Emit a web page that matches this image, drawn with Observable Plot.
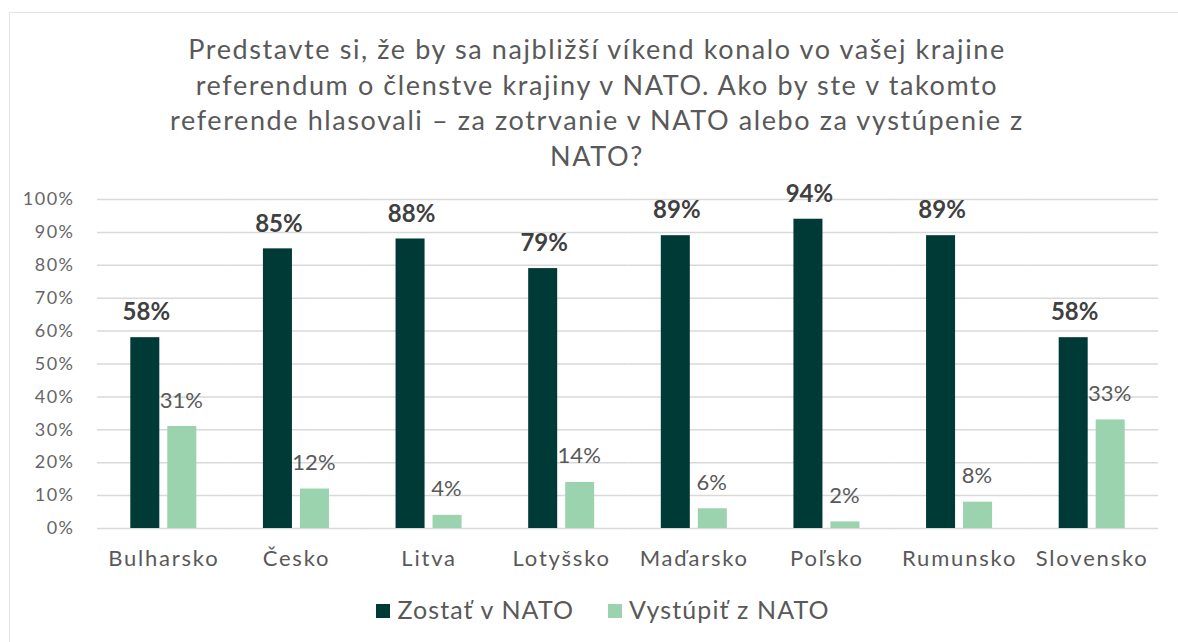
<!DOCTYPE html>
<html>
<head>
<meta charset="utf-8">
<script src="https://cdn.jsdelivr.net/npm/d3@7"></script>
<script src="https://cdn.jsdelivr.net/npm/@observablehq/plot@0.6"></script>
<style>
  html, body { margin: 0; padding: 0; background: #fff; width: 1178px; height: 642px; overflow: hidden; font-family: Lato, "Noto Sans", sans-serif; }
  #frame { position: absolute; left: 9px; top: 12px; width: 1300px; height: 800px; border-top: 1px solid #e4e4e4; border-left: 1px solid #e4e4e4; }
  #title { position: absolute; left: 0; top: 31px; width: 1194px; text-align: center; color: #595959; font-size: 27px; line-height: 35.5px; letter-spacing: 1.6px; }
  #chart { position: absolute; left: 0; top: 170px; }
  #legend { position: absolute; left: 0; top: 594px; width: 1206px; text-align: center; color: #595959; font-size: 25px; letter-spacing: 1.1px; white-space: nowrap; }
  .item { display: inline-block; margin: 0 17px; }
  .sw { display: inline-block; width: 14px; height: 14px; margin-right: 7px; vertical-align: 1px; }
</style>
</head>
<body>
<div id="frame"></div>
<div id="title">Predstavte si, že by sa najbližší víkend konalo vo vašej krajine<br>referendum o členstve krajiny v NATO. Ako by ste v takomto<br>referende hlasovali – za zotrvanie v NATO alebo za vystúpenie z<br>NATO?</div>
<div id="chart"></div>
<div id="legend"></div>
<script>
const countries = ["Bulharsko", "Česko", "Litva", "Lotyšsko", "Maďarsko", "Poľsko", "Rumunsko", "Slovensko"];
const seriesNames = ["Zostať v NATO", "Vystúpiť z NATO"];
const stay = [58, 85, 88, 79, 89, 94, 89, 58];
const leave = [31, 12, 4, 14, 6, 2, 8, 33];
const yTicks = [0, 10, 20, 30, 40, 50, 60, 70, 80, 90, 100];
const colors = ["#003a37", "#9bd3ae"];

const data = [];
countries.forEach((c, i) => {
  data.push({country: c, series: seriesNames[0], value: stay[i]});
  data.push({country: c, series: seriesNames[1], value: leave[i]});
});

const chart = Plot.plot({
  width: 1178,
  height: 410,
  marginLeft: 97,
  marginRight: 20,
  marginTop: 29,
  marginBottom: 52,
  style: {fontFamily: "Lato, 'Noto Sans', sans-serif", background: "transparent", overflow: "visible"},
  fx: {domain: countries, padding: 0, round: false, label: null},
  x: {domain: seriesNames, paddingInner: 0.216, paddingOuter: 0.9, round: false, axis: null},
  y: {domain: [0, 100], axis: null},
  color: {domain: seriesNames, range: colors},
  marks: [
    Plot.ruleY(yTicks, {stroke: "#d9d9d9", strokeWidth: 1.5}),
    Plot.axisY({ticks: yTicks, tickFormat: d => d + "%", tickSize: 0, tickPadding: 23, fontSize: 18, fill: "#666666", label: null, facetAnchor: "left"}),
    Plot.axisFx({anchor: "bottom", tickSize: 0, tickPadding: 22, fontSize: 22, fill: "#595959", label: null}),
    Plot.barY(data, {fx: "country", x: "series", y: "value", fill: "series"}),
    Plot.text(data.filter(d => d.series === seriesNames[0]), {fx: "country", x: "series", y: "value", text: d => d.value + "%", dy: -25, dx: 1, fontSize: 24, fontWeight: "bold", fill: "#404040", ariaLabel: "staylabels"}),
    Plot.text(data.filter(d => d.series === seriesNames[1]), {fx: "country", x: "series", y: "value", text: d => d.value + "%", dy: -26, dx: -1, fontSize: 22, fill: "#595959", ariaLabel: "leavelabels"})
  ]
});
const svg = d3.select(chart);
svg.selectAll("[aria-label^='y-axis tick label'] text").attr("letter-spacing", "1.5px");
svg.selectAll("[aria-label^='fx-axis tick label'] text").attr("letter-spacing", "1.8px");
svg.selectAll("[aria-label='staylabels'] text").attr("letter-spacing", "1.5px");
svg.selectAll("[aria-label='leavelabels'] text").attr("letter-spacing", "0.3px");
document.getElementById("chart").appendChild(chart);

const legend = document.getElementById("legend");
seriesNames.forEach((s, i) => {
  const it = document.createElement("span");
  it.className = "item";
  it.innerHTML = `<span class="sw" style="background:${colors[i]}"></span>${s}`;
  legend.appendChild(it);
});
</script>
</body>
</html>
